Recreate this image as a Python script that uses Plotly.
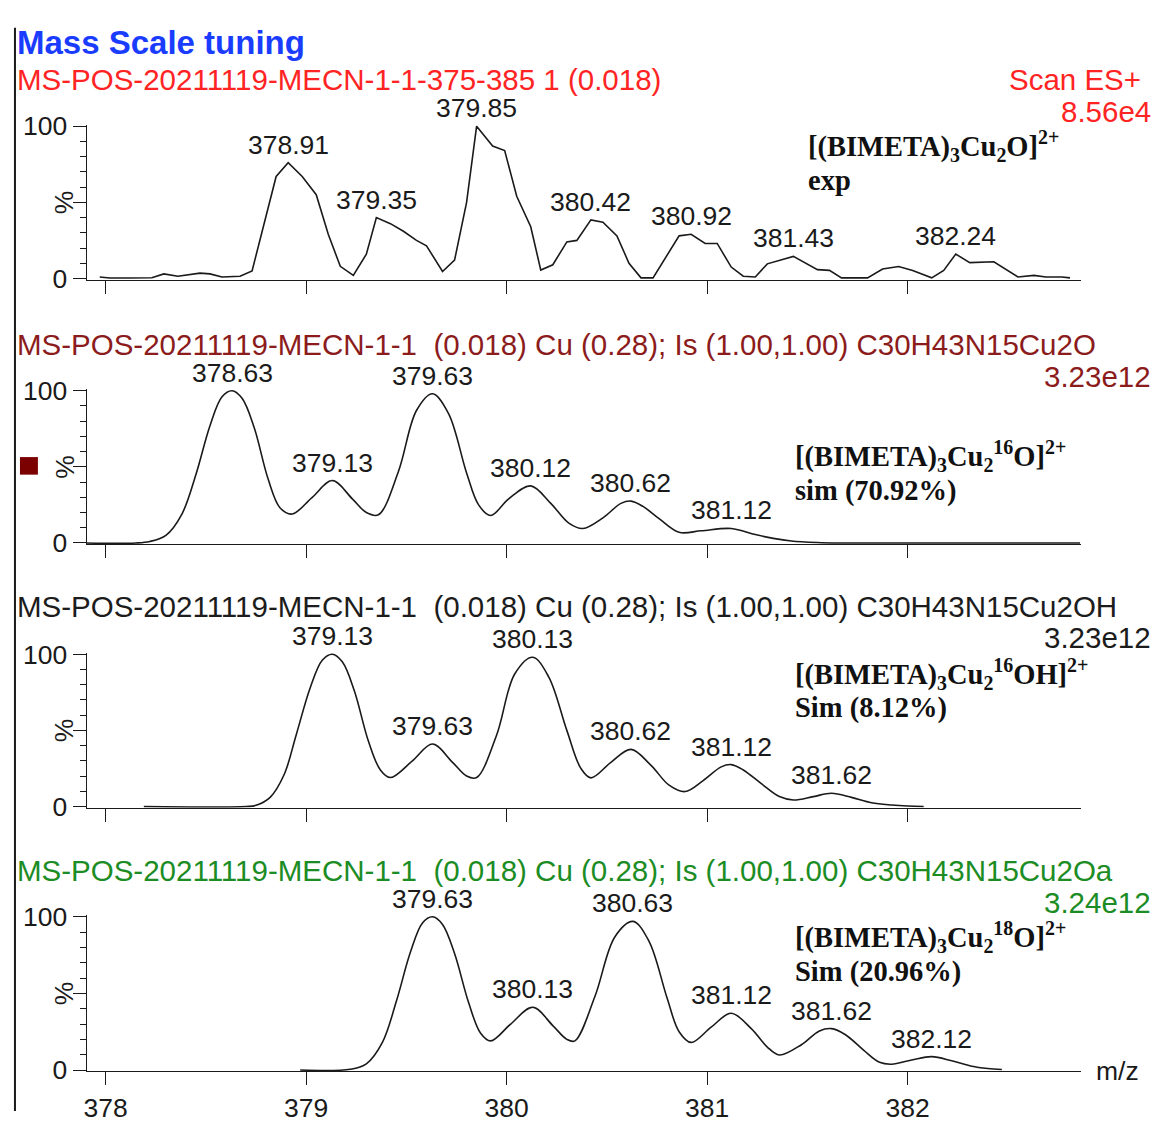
import plotly.graph_objects as go

W, H = 1154, 1125

# ---- spectra: m/z and relative intensity (%) ----
exp_mz = [377.97, 378.02, 378.12, 378.23, 378.29, 378.36, 378.47, 378.52, 378.58, 378.67,
          378.73, 378.79, 378.85, 378.91, 378.98, 379.05, 379.11, 379.17, 379.235, 379.30,
          379.35, 379.42, 379.485, 379.55, 379.60, 379.68, 379.74, 379.80, 379.85, 379.93,
          379.99, 380.05, 380.12, 380.17, 380.23, 380.30, 380.35, 380.42, 380.48, 380.55,
          380.61, 380.67, 380.73, 380.86, 380.92, 380.99, 381.05, 381.12, 381.18, 381.24,
          381.30, 381.43, 381.55, 381.61, 381.67, 381.80, 381.875, 381.955, 382.025, 382.12,
          382.18, 382.24, 382.31, 382.43, 382.55, 382.63, 382.69, 382.77, 382.81]
exp_int = [1, 0.3, 0.3, 0.5, 3, 1.5, 3.5, 3, 1, 1.5,
           5, 37, 67, 76, 67, 55, 29, 8, 2, 16,
           40, 36, 31, 25, 21.5, 4.6, 12, 50, 100, 87,
           84, 54, 34, 5.5, 9, 24, 25, 38.5, 37, 28,
           10, 0.4, 0.4, 28, 29, 23, 23, 7.5, 1.5, 1,
           9.6, 14.5, 5.8, 5.3, 0.4, 0.4, 6.2, 7.9, 5.3, 0.4,
           5.3, 16, 10.4, 11, 1, 2, 1, 1, 0.4]

sim16_mz = [377.90, 378.15, 378.22, 378.30, 378.38, 378.45, 378.52, 378.58, 378.63, 378.68,
            378.74, 378.81, 378.87, 378.93, 379.03, 379.13, 379.23, 379.30, 379.36, 379.46,
            379.55, 379.63, 379.71, 379.80, 379.86, 379.92, 380.01, 380.12, 380.22, 380.31,
            380.38, 380.48, 380.57, 380.62, 380.68, 380.76, 380.86, 380.97, 381.12, 381.24,
            381.33, 381.42, 381.55, 381.65, 382.86]
sim16_int = [0, 0, 1, 5, 19, 45, 77, 96, 100, 95,
             76, 42, 23, 19, 30, 41, 29, 20, 18.5, 47,
             87, 98, 85, 46, 25, 18, 29, 37.5, 26, 13,
             9.5, 16.5, 26, 27.5, 24, 16, 7, 8, 9.5, 5.5,
             3, 1.3, 0.3, 0, 0]

simOH_mz = [378.19, 378.70, 378.75, 378.82, 378.89, 378.95, 379.02, 379.08, 379.13, 379.18,
            379.24, 379.31, 379.37, 379.42, 379.53, 379.63, 379.73, 379.80, 379.85, 379.95,
            380.04, 380.13, 380.21, 380.30, 380.37, 380.42, 380.52, 380.62, 380.72, 380.81,
            380.89, 380.98, 381.07, 381.12, 381.18, 381.27, 381.36, 381.43, 381.53, 381.62,
            381.72, 381.82, 381.92, 382.00, 382.08]
simOH_int = [0, 0, 0.8, 6, 21, 47, 78, 96, 100, 95,
             76, 43, 24, 19, 30, 41, 29, 20, 19, 47,
             87, 98, 85, 50, 25, 18.8, 29, 37.5, 27, 14,
             9.8, 17, 26, 27.5, 24, 15, 6.5, 4.3, 6.5, 8.7,
             6, 2.5, 1, 0.3, 0]

sim18_mz = [378.97, 379.22, 379.30, 379.38, 379.45, 379.52, 379.58, 379.63, 379.68, 379.74,
            379.81, 379.87, 379.92, 380.02, 380.13, 380.23, 380.30, 380.34, 380.44, 380.54,
            380.63, 380.71, 380.80, 380.86, 380.92, 381.02, 381.12, 381.22, 381.30, 381.36,
            381.47, 381.56, 381.62, 381.69, 381.78, 381.86, 381.92, 382.02, 382.12, 382.22,
            382.32, 382.40, 382.47]
sim18_int = [0, 0.5, 4, 18, 45, 77, 96, 100, 95, 76,
             44, 24, 19, 30, 41, 29, 20, 19, 48, 87,
             97, 84, 47, 25, 18, 28, 37, 27, 15, 9.8,
             16.5, 25.5, 27, 23, 13, 5, 3.8, 6.5, 8.7, 6,
             2.5, 1, 0.3]

# labelled peaks (m/z)
exp_peaks = [378.91, 379.35, 379.85, 380.42, 380.92, 381.43, 382.24]
sim16_peaks = [378.63, 379.13, 379.63, 380.12, 380.62, 381.12]
simOH_peaks = [379.13, 379.63, 380.13, 380.62, 381.12, 381.62]
sim18_peaks = [379.63, 380.13, 380.63, 381.12, 381.62, 382.12]

x_ticks = [378, 379, 380, 381, 382]

titles = [
    "MS-POS-20211119-MECN-1-1-375-385 1 (0.018)",
    "MS-POS-20211119-MECN-1-1\u00a0 (0.018) Cu (0.28); Is (1.00,1.00) C30H43N15Cu2O",
    "MS-POS-20211119-MECN-1-1\u00a0 (0.018) Cu (0.28); Is (1.00,1.00) C30H43N15Cu2OH",
    "MS-POS-20211119-MECN-1-1\u00a0 (0.018) Cu (0.28); Is (1.00,1.00) C30H43N15Cu2Oa",
]
scale_texts = ["8.56e4", "3.23e12", "3.23e12", "3.24e12"]
species = [
    "<b>[(BIMETA)<sub>3</sub>Cu<sub>2</sub>O]<sup>2+</sup></b>",
    "<b>[(BIMETA)<sub>3</sub>Cu<sub>2</sub><sup>16</sup>O]<sup>2+</sup></b>",
    "<b>[(BIMETA)<sub>3</sub>Cu<sub>2</sub><sup>16</sup>OH]<sup>2+</sup></b>",
    "<b>[(BIMETA)<sub>3</sub>Cu<sub>2</sub><sup>18</sup>O]<sup>2+</sup></b>",
]
notes = ["<b>exp</b>", "<b>sim (70.92%)</b>", "<b>Sim (8.12%)</b>", "<b>Sim (20.96%)</b>"]

title_colors = ["#ff2424", "#8c1c1c", "#1c1c1c", "#1c8c24"]

panels = [
    (exp_mz, exp_int, exp_peaks, "linear"),
    (sim16_mz, sim16_int, sim16_peaks, "spline"),
    (simOH_mz, simOH_int, simOH_peaks, "spline"),
    (sim18_mz, sim18_int, sim18_peaks, "spline"),
]

# ---- layout geometry (pixels) ----
zero_px = [272, 543, 813, 1083]
full_px = [116, 387, 657, 926]
X0_PX, X1_PX = 84, 1081
PX_PER_MZ = 201.0
x_range = [378 - (103 - X0_PX) / PX_PER_MZ, 382 + (X1_PX - 907) / PX_PER_MZ]
y_range = [-0.8, 101]


def fx(p):
    return p / W


def fy(p):
    return 1 - p / H


SANS = "Liberation Sans, Arial, sans-serif"
SERIF = "Liberation Serif, Times New Roman, serif"
INK = "#1a1a1a"
TITLE_SIZE = 29.5
LABEL_SIZE = 26.5
SERIF_SIZE = 28.5

fig = go.Figure()
annotations = []
layout_axes = {}

for i, (mz, inten, peaks, shape) in enumerate(panels):
    n = "" if i == 0 else str(i + 1)
    fig.add_trace(go.Scatter(
        x=mz, y=inten, mode="lines",
        line=dict(color=INK, width=1.6, shape=shape, smoothing=1.0),
        xaxis="x" + n, yaxis="y" + n, hoverinfo="skip", showlegend=False,
    ))

    ppu = (zero_px[i] - full_px[i]) / 100.0
    dom_bottom = zero_px[i] - y_range[0] * ppu
    dom_top = zero_px[i] - y_range[1] * ppu

    layout_axes["xaxis" + n] = dict(
        domain=[fx(X0_PX), fx(X1_PX)], range=x_range, anchor="y" + n,
        showline=True, linecolor=INK, linewidth=1.4,
        ticks="outside", ticklen=13, tickwidth=1.4, tickcolor=INK,
        tickvals=x_ticks, ticktext=[str(t) for t in x_ticks],
        showticklabels=(i == 3), tickfont=dict(family=SANS, size=LABEL_SIZE, color=INK),
        showgrid=False, zeroline=False, fixedrange=True,
    )
    layout_axes["yaxis" + n] = dict(
        domain=[fy(dom_bottom), fy(dom_top)], range=y_range, anchor="x" + n,
        showline=True, linecolor=INK, linewidth=1.4,
        ticks="outside", ticklen=13, tickwidth=1.4, tickcolor=INK,
        tickvals=[0, 50, 100], ticktext=["0", "", "100"],
        tickfont=dict(family=SANS, size=LABEL_SIZE, color=INK),
        minor=dict(tickvals=[10, 20, 30, 40, 60, 70, 80, 90], ticks="outside",
                   ticklen=6, tickwidth=1.4, tickcolor=INK),
        showgrid=False, zeroline=False, fixedrange=True,
    )

    # peak m/z labels
    for p in peaks:
        annotations.append(dict(
            x=p, y=inten[mz.index(p)], xref="x" + n, yref="y" + n,
            text=f"{p:.2f}", showarrow=False, xanchor="center", yanchor="bottom",
            yshift=1, font=dict(family=SANS, size=LABEL_SIZE, color=INK),
        ))

    # "%" axis label
    annotations.append(dict(
        x=fx(62), y=fy((zero_px[i] + full_px[i]) / 2), xref="paper", yref="paper",
        text="%", textangle=-90, showarrow=False, xanchor="center", yanchor="middle",
        font=dict(family=SANS, size=LABEL_SIZE, color=INK),
    ))

# panel headers
header_y = [68, 340, 608, 879]
scale_y = [101, 372, 640, 911]
for i in range(4):
    annotations.append(dict(
        x=fx(13), y=fy(header_y[i]), xref="paper", yref="paper", text=titles[i],
        showarrow=False, xanchor="left", yanchor="middle", borderpad=0,
        font=dict(family=SANS, size=TITLE_SIZE, color=title_colors[i]),
    ))
    annotations.append(dict(
        x=fx(1152), y=fy(scale_y[i]), xref="paper", yref="paper", text=scale_texts[i],
        showarrow=False, xanchor="right", yanchor="middle", borderpad=0,
        font=dict(family=SANS, size=TITLE_SIZE, color=title_colors[i]),
    ))

annotations.append(dict(
    x=fx(1142), y=fy(68), xref="paper", yref="paper", text="Scan ES+",
    showarrow=False, xanchor="right", yanchor="middle", borderpad=0,
    font=dict(family=SANS, size=TITLE_SIZE, color=title_colors[0]),
))

# species / simulation notes
species_x = [806, 793, 793, 793]
species_y = [136, 454, 677, 947]
notes_y = [172, 490, 712, 983]
for i in range(4):
    annotations.append(dict(
        x=fx(species_x[i]), y=fy(species_y[i]), xref="paper", yref="paper",
        text=species[i], showarrow=False, xanchor="left", yanchor="middle",
        borderpad=0, font=dict(family=SERIF, size=SERIF_SIZE, color="#111111"),
    ))
    annotations.append(dict(
        x=fx(species_x[i]), y=fy(notes_y[i]), xref="paper", yref="paper",
        text=notes[i], showarrow=False, xanchor="left", yanchor="middle",
        borderpad=0, font=dict(family=SERIF, size=SERIF_SIZE, color="#111111"),
    ))

annotations.append(dict(
    x=fx(12), y=fy(30), xref="paper", yref="paper", text="<b>Mass Scale tuning</b>",
    showarrow=False, xanchor="left", yanchor="middle",
    font=dict(family=SANS, size=33, color="#1a3cff"),
))
annotations.append(dict(
    x=fx(1094), y=fy(1084), xref="paper", yref="paper", text="m/z",
    showarrow=False, xanchor="left", yanchor="middle",
    font=dict(family=SANS, size=LABEL_SIZE, color=INK),
))

shapes = [
    # left frame rule
    dict(type="line", xref="paper", yref="paper", x0=fx(12), x1=fx(12), y0=fy(15), y1=fy(H),
         line=dict(color=INK, width=2)),
    # trace colour swatch of the second panel
    dict(type="rect", xref="paper", yref="paper", x0=fx(17), x1=fx(35), y0=fy(473), y1=fy(455),
         fillcolor="#7b0000", line=dict(width=0)),
]

fig.update_layout(
    width=W, height=H, autosize=False,
    margin=dict(l=0, r=0, t=0, b=0, pad=0),
    paper_bgcolor="white", plot_bgcolor="white",
    annotations=annotations, shapes=shapes,
    **layout_axes,
)

fig.write_html(
    "out.html",
    config={"displayModeBar": False},
    post_script="document.body.style.margin='0';document.body.style.overflow='hidden';",
)
